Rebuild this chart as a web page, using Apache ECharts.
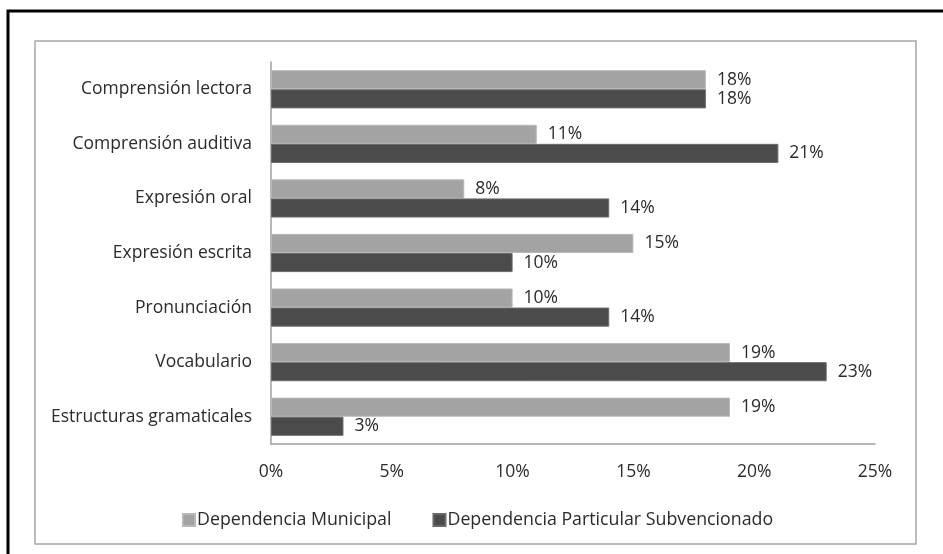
<!DOCTYPE html>
<html>
<head>
<meta charset="utf-8">
<script src="https://cdn.jsdelivr.net/npm/echarts@6/dist/echarts.min.js"></script>
<style>html,body{margin:0;padding:0;background:#fff;}#c{width:943px;height:554px;}</style>
</head>
<body>
<div id="c"></div>
<script>
const categories = ["Comprensión lectora","Comprensión auditiva","Expresión oral","Expresión escrita","Pronunciación","Vocabulario","Estructuras gramaticales"];
const seriesNames = ["Dependencia Municipal","Dependencia Particular Subvencionado"];
const municipal = [18, 11, 8, 15, 10, 19, 19];
const particular = [18, 21, 14, 10, 14, 23, 3];
const xTicks = [0, 5, 10, 15, 20, 25];

const FONT = "Open Sans";
const FS = 17.5;
const TXT = "#2b2b2b";
const chart = echarts.init(document.getElementById('c'), null, {renderer:'canvas'});
chart.setOption({
  animation: false,
  backgroundColor: '#fff',
  textStyle: {fontFamily: FONT},
  graphic: [
    {type:'rect', shape:{x:8, y:11, width:1000, height:600}, style:{fill:'none', stroke:'#000', lineWidth:3}, z:-1},
    {type:'rect', shape:{x:35, y:41, width:881, height:503}, style:{fill:'none', stroke:'#a6a6a6', lineWidth:1.5}, z:-1}
  ],
  grid: {left: 271, right: 68, top: 62, bottom: 110, containLabel: false},
  legend: {
    bottom: 20, left: 177,
    itemWidth: 12, itemHeight: 12, itemGap: 41,
    icon: 'rect',
    textStyle: {fontFamily: FONT, fontSize: 17.8, color: TXT, padding:[0,0,0,-3]},
    data: seriesNames
  },
  xAxis: {
    type: 'value', min: xTicks[0], max: xTicks[xTicks.length-1], interval: 5,
    axisLine: {show: true, lineStyle: {color: '#a0a0a0', width: 1.5}},
    axisTick: {show: false},
    splitLine: {show: false},
    axisLabel: {formatter: v => v + '%', fontFamily: FONT, fontSize: FS, color: TXT, margin: 19}
  },
  yAxis: {
    type: 'category', data: categories, inverse: true,
    axisLine: {show: true, lineStyle: {color: '#a0a0a0', width: 1.5}},
    axisTick: {show: false},
    axisLabel: {fontFamily: FONT, fontSize: FS, color: TXT, margin: 19}
  },
  series: [
    {name: seriesNames[0], type: 'bar', data: municipal, barGap: '0%', barCategoryGap: '30%',
     itemStyle: {color: '#a3a3a3', borderColor: '#b8b8b8', borderWidth: 1},
     label: {show: true, position: 'right', distance: 11, formatter: p => p.value + '%', fontFamily: FONT, fontSize: FS, color: TXT}},
    {name: seriesNames[1], type: 'bar', data: particular, barGap: '0%', barCategoryGap: '30%',
     itemStyle: {color: '#4b4b4b', borderColor: '#6a6a6a', borderWidth: 1},
     label: {show: true, position: 'right', distance: 11, formatter: p => p.value + '%', fontFamily: FONT, fontSize: FS, color: TXT}}
  ]
});
</script>
</body>
</html>
